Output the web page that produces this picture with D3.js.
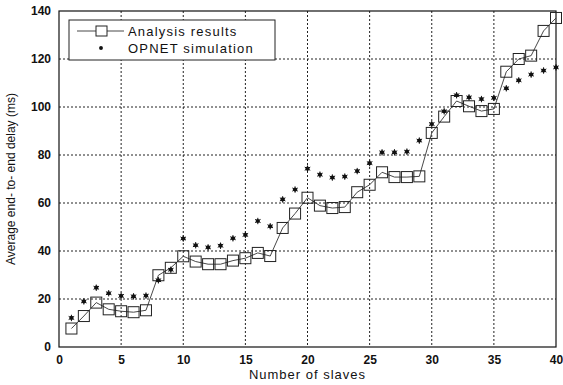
<!DOCTYPE html>
<html><head><meta charset="utf-8">
<script src="https://cdn.jsdelivr.net/npm/d3@7"></script>
<style>
body{margin:0;background:#fff;}
svg{display:block;font-family:"Liberation Sans",Arial,sans-serif;}
</style></head><body>
<svg id="c" width="563" height="385"></svg>
<script>
const slaves = d3.range(1, 41);
const analysis = [7.7,12.9,18.5,15.7,14.9,14.5,15.3,29.9,33,37.8,
  35.6,34.5,34.5,36,37,39.2,37.9,49.6,55.6,62.2,
  58.9,57.9,58.3,64.5,67.6,72.8,70.8,70.8,71.1,89.2,
  96,102.5,100.3,98.3,99.2,114.7,120,121.4,131.7,137.1];
const opnet = [12.1,19,24.7,22.4,21.3,21.1,21.4,27.8,32.2,45.2,
  42.4,41.5,42.2,45.3,46.7,52.5,50.3,61.5,65.6,74.3,
  71.8,70.6,71,73.3,76.6,81.1,81.1,81.4,86,92.9,
  98.2,104.9,104,103.3,103.8,107.8,111.1,113.5,115.2,116.5];
const xTicks = [0,5,10,15,20,25,30,35,40];
const yTicks = [0,20,40,60,80,100,120,140];
const legendLabels = ["Analysis results","OPNET simulation"];

const svg = d3.select("#c");
const L=59, R=556, T=11, B=347;
const x = d3.scaleLinear().domain([0,40]).range([L,R]);
const y = d3.scaleLinear().domain([0,140]).range([B,T]);

// grid
const g = svg.append("g");
g.selectAll("line.gx").data(xTicks.slice(1,-1)).join("line")
  .attr("x1",d=>x(d)).attr("x2",d=>x(d)).attr("y1",T).attr("y2",B)
  .attr("stroke","#222").attr("stroke-width",1).attr("stroke-dasharray","2,2");
g.selectAll("line.gy").data(yTicks.slice(1,-1)).join("line")
  .attr("y1",d=>y(d)).attr("y2",d=>y(d)).attr("x1",L).attr("x2",R)
  .attr("stroke","#222").attr("stroke-width",1).attr("stroke-dasharray","2,2");

// axes
const xAxis = d3.axisBottom(x).tickValues(xTicks).tickSize(0).tickPadding(8);
const yAxis = d3.axisLeft(y).tickValues(yTicks).tickSize(0).tickPadding(8);
const ax = svg.append("g").attr("transform",`translate(0,${B})`).call(xAxis);
const ay = svg.append("g").attr("transform",`translate(${L},0)`).call(yAxis);
[ax,ay].forEach(a=>{
  a.select(".domain").remove();
  a.selectAll("text").attr("font-size",12).attr("font-weight","bold")
    .attr("fill","#111").attr("font-family","Liberation Sans, Arial, sans-serif");
});
svg.append("rect").attr("x",L).attr("y",T).attr("width",R-L).attr("height",B-T)
  .attr("fill","none").attr("stroke","#111").attr("stroke-width",1.2);

// analysis line + squares
const line = d3.line().x((d,i)=>x(slaves[i])).y(d=>y(d));
svg.append("path").datum(analysis).attr("d",line)
  .attr("fill","none").attr("stroke","#333").attr("stroke-width",0.9);
const s=11;
svg.selectAll("rect.sq").data(analysis).join("rect")
  .attr("x",(d,i)=>x(slaves[i])-s/2).attr("y",d=>y(d)-s/2)
  .attr("width",s).attr("height",s).attr("fill","none")
  .attr("stroke","#222").attr("stroke-width",1);

// opnet stars
const star = d3.symbol().type(d3.symbolAsterisk||d3.symbolCross).size(22);
svg.selectAll("path.st").data(opnet).join("path")
  .attr("transform",(d,i)=>`translate(${x(slaves[i])},${y(d)})`)
  .attr("d",d3.symbol().type(d3.symbolCircle).size(14))
  .attr("fill","#111");
svg.selectAll("path.st2").data(opnet).join("path")
  .attr("transform",(d,i)=>`translate(${x(slaves[i])},${y(d)})`)
  .attr("d",d3.symbol().type(d3.symbolAsterisk).size(28))
  .attr("stroke","#111").attr("stroke-width",1).attr("fill","none");

// legend
const lg = svg.append("g");
lg.append("rect").attr("x",69).attr("y",20).attr("width",206).attr("height",40)
  .attr("fill","#fff").attr("stroke","#222").attr("stroke-width",1);
lg.append("line").attr("x1",77).attr("x2",124).attr("y1",31).attr("y2",31)
  .attr("stroke","#333").attr("stroke-width",0.9);
lg.append("rect").attr("x",96).attr("y",26).attr("width",11).attr("height",10)
  .attr("fill","#fff").attr("stroke","#222");
lg.append("path").attr("transform","translate(101,48)")
  .attr("d",d3.symbol().type(d3.symbolCircle).size(12)).attr("fill","#111");
lg.selectAll("text").data(legendLabels).join("text")
  .attr("x",128).attr("y",(d,i)=>36+i*17).text(d=>d)
  .attr("font-size",13).attr("letter-spacing","1.2px").attr("fill","#111");

// axis titles
svg.append("text").attr("x",(L+R)/2).attr("y",379).attr("text-anchor","middle")
  .attr("font-size",13).attr("letter-spacing","1px").attr("fill","#111").text("Number of slaves");
svg.append("text").attr("transform",`translate(15,${(T+B)/2}) rotate(-90)`)
  .attr("text-anchor","middle").attr("font-size",12).attr("fill","#111")
  .text("Average end- to- end delay (ms)");
</script>
</body></html>
